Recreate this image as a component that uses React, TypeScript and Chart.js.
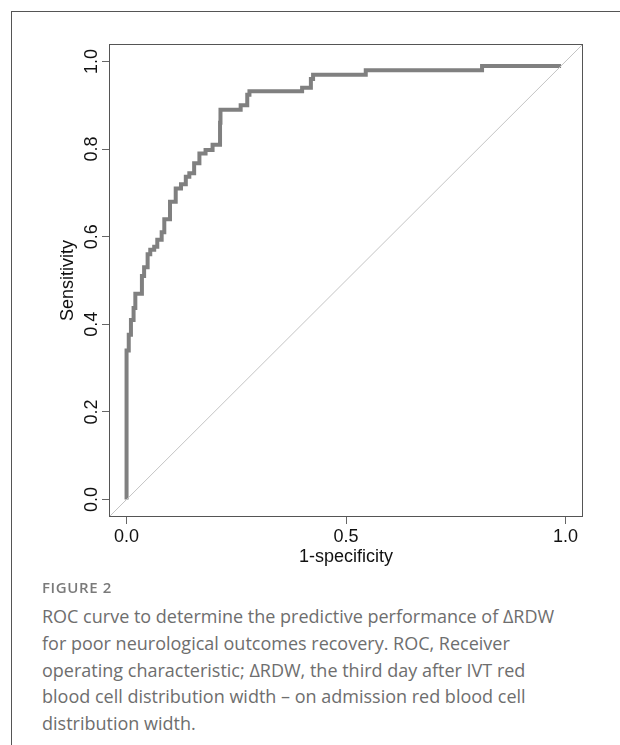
import React, { useEffect, useRef } from "react";
import { Chart, registerables } from "chart.js";

Chart.register(...registerables);

// ROC staircase: each point is the right end of a horizontal run (1-specificity, sensitivity)
const fpr = [0, 0.005, 0.01, 0.016, 0.02, 0.035, 0.04, 0.048, 0.054, 0.063, 0.07, 0.08, 0.086, 0.099, 0.112, 0.124, 0.135, 0.143, 0.154, 0.166, 0.18, 0.196, 0.213, 0.214, 0.26, 0.275, 0.28, 0.4, 0.42, 0.425, 0.545, 0.81, 0.99];
const tpr = [0, 0.34, 0.376, 0.41, 0.437, 0.47, 0.51, 0.53, 0.56, 0.57, 0.577, 0.593, 0.61, 0.64, 0.68, 0.71, 0.72, 0.737, 0.745, 0.768, 0.79, 0.798, 0.81, 0.86, 0.89, 0.9, 0.924, 0.932, 0.94, 0.96, 0.97, 0.98, 0.99];

const axisMin = -0.04;
const axisMax = 1.04;
const xTickValues = [0, 0.5, 1.0];
const yTickValues = [0, 0.2, 0.4, 0.6, 0.8, 1.0];
const xTitle = "1-specificity";
const yTitle = "Sensitivity";
const captionHead = "FIGURE 2";
const captionLines = [
  "ROC curve to determine the predictive performance of \u0394RDW",
  "for poor neurological outcomes recovery. ROC, Receiver",
  "operating characteristic; \u0394RDW, the third day after IVT red",
  "blood cell distribution width \u2013 on admission red blood cell",
  "distribution width.",
];

const AXIS_FONT = "'Liberation Sans', Arial, Helvetica, sans-serif";

export default function App() {
  const ref = useRef<HTMLCanvasElement>(null);

  useEffect(() => {
    if (!ref.current) return;
    const boxPlugin = {
      id: "rBox",
      afterDraw(chart: any) {
        const { ctx, chartArea: a, scales } = chart;
        ctx.save();
        ctx.strokeStyle = "#555";
        ctx.lineWidth = 1;
        ctx.strokeRect(Math.round(a.left) + 0.5, Math.round(a.top) + 0.5, Math.round(a.right - a.left) - 1, Math.round(a.bottom - a.top) - 1);
        ctx.fillStyle = "#111";
        ctx.font = "18px " + AXIS_FONT;
        ctx.textAlign = "center";
        ctx.textBaseline = "middle";
        for (const v of yTickValues) {
          const y = scales.y.getPixelForValue(v);
          ctx.save();
          ctx.translate(92, y);
          ctx.rotate(-Math.PI / 2);
          ctx.fillText(v.toFixed(1), 0, 0);
          ctx.restore();
        }
        ctx.restore();
      },
    };

    const chart = new Chart(ref.current, {
      type: "line",
      data: {
        datasets: [
          {
            data: [
              { x: axisMin, y: axisMin },
              { x: axisMax, y: axisMax },
            ],
            borderColor: "#c4c4c4",
            borderWidth: 1,
            pointRadius: 0,
            fill: false,
          },
          {
            data: fpr.map((x, i) => ({ x, y: tpr[i] })),
            borderColor: "#808080",
            borderWidth: 4,
            pointRadius: 0,
            stepped: "after",
            fill: false,
            borderJoinStyle: "miter",
            borderCapStyle: "butt",
          },
        ],
      },
      options: {
        animation: false,
        responsive: false,
        events: [],
        layout: { padding: { left: 0, top: 44, right: 37, bottom: 0 } },
        plugins: { legend: { display: false }, tooltip: { enabled: false }, title: { display: false } },
        scales: {
          x: {
            type: "linear",
            min: axisMin,
            max: axisMax,
            afterFit: (s: any) => {
              s.height = 83;
            },
            grid: { drawOnChartArea: false, drawTicks: true, tickLength: 7, color: "#666" },
            border: { display: false },
            afterBuildTicks: (s: any) => {
              s.ticks = xTickValues.map((v) => ({ value: v }));
            },
            ticks: {
              padding: 2,
              color: "#111",
              font: { size: 18, family: AXIS_FONT },
              callback: (v: any) => Number(v).toFixed(1),
              maxRotation: 0,
              autoSkip: false,
            },
            title: {
              display: true,
              text: xTitle,
              color: "#111",
              font: { size: 18, family: AXIS_FONT },
              padding: { top: 0, bottom: 32 },
            },
          },
          y: {
            type: "linear",
            min: axisMin,
            max: axisMax,
            afterFit: (s: any) => {
              s.width = 109;
            },
            afterBuildTicks: (s: any) => {
              s.ticks = yTickValues.map((v) => ({ value: v }));
            },
            grid: { drawOnChartArea: false, drawTicks: true, tickLength: 7, color: "#666" },
            border: { display: false },
            ticks: { display: false },
            title: {
              display: true,
              text: yTitle,
              color: "#111",
              font: { size: 18, family: AXIS_FONT },
              padding: { top: 57, bottom: 0 },
            },
          },
        },
      },
      plugins: [boxPlugin],
    } as any);
    return () => chart.destroy();
  }, []);

  return (
    <div style={{ position: "absolute", left: 0, top: 0, width: 620, height: 745, overflow: "hidden", background: "#fff" }}>
      <div
        style={{
          position: "absolute",
          left: 11,
          top: 11,
          right: 0,
          bottom: 0,
          borderLeft: "1px solid #555",
          borderTop: "1px solid #555",
        }}
      />
      <canvas ref={ref} width={620} height={600} style={{ position: "absolute", left: 0, top: 0 }} />
      <div
        style={{
          position: "absolute",
          left: 42,
          top: 577,
          fontFamily: "'Open Sans', 'Noto Sans', sans-serif",
          fontWeight: 600,
          fontSize: 15,
          letterSpacing: 0.6,
          color: "#7a7a7a",
          whiteSpace: "nowrap",
        }}
      >
        {captionHead}
      </div>
      <div
        style={{
          position: "absolute",
          left: 42,
          top: 603,
          fontFamily: "'Open Sans', 'Noto Sans', sans-serif",
          fontWeight: 400,
          fontSize: 18,
          lineHeight: "26.8px",
          color: "#6e6e6e",
          whiteSpace: "nowrap",
        }}
      >
        {captionLines.map((l, i) => (
          <div key={i}>{l}</div>
        ))}
      </div>
    </div>
  );
}
